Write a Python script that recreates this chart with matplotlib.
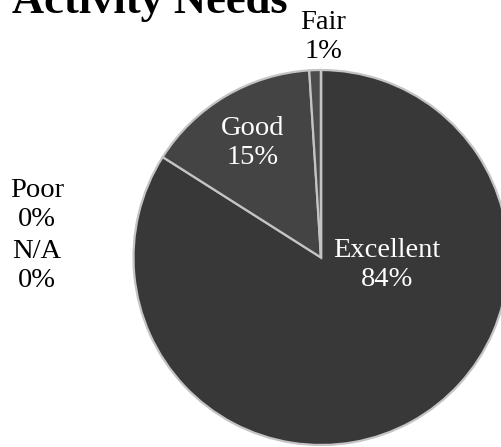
import matplotlib.pyplot as plt

labels = ["Excellent", "Good", "Fair", "Poor", "N/A"]
values = [84, 15, 1, 0, 0]
colors = ["#383838", "#444444", "#4c4c4c", "#555555", "#5a5a5a"]

W, H = 502, 447
fig = plt.figure(figsize=(W / 100, H / 100), dpi=100)

# pie centre (321, 257.5) px, radius 187.5 px
cx, cy, r = 321, 257.5, 187.5
ax = fig.add_axes([(cx - r) / W, (H - cy - r) / H, 2 * r / W, 2 * r / H])
ax.pie(values, colors=colors, startangle=90, counterclock=False,
       wedgeprops=dict(edgecolor="#c4c4c4", linewidth=1.6))
ax.set_xlim(-1, 1)
ax.set_ylim(-1, 1)
ax.set_aspect("auto")
ax.axis("off")

font = "Liberation Serif"


def px(x, y):
    return x / W, 1 - y / H


fig.text(*px(12, 13), "Activity Needs", family=font, fontweight="bold",
         fontsize=32, ha="left", va="baseline")

# label positions in pixels (centre of each two-line block)
label_pos = {"Excellent": (387, 265), "Good": (253, 143), "Fair": (323, 37),
             "Poor": (37, 205), "N/A": (37, 266)}
for lab, v in zip(labels, values):
    x, y = label_pos[lab]
    col = "white" if lab in ("Excellent", "Good") else "black"
    fig.text(*px(x, y), f"{lab}\n{v}%", family=font, fontsize=20.5,
             color=col, ha="center", va="center", linespacing=1.2)

fig.savefig("out.png", dpi=100)
